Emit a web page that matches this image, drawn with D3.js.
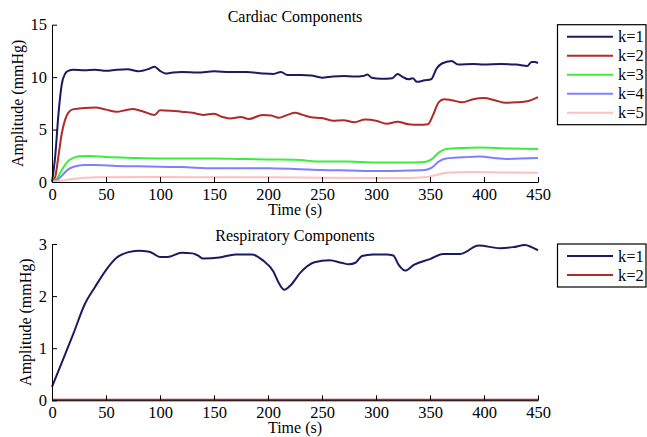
<!DOCTYPE html>
<html>
<head>
<meta charset="utf-8">
<script src="https://cdn.jsdelivr.net/npm/d3@7"></script>
<style>
  html, body { margin: 0; padding: 0; background: #fff; }
  svg { display: block; }
  svg text { font-family: "Liberation Serif", "Times New Roman", "DejaVu Serif", serif; fill: #000; }
</style>
</head>
<body>
<svg id="chart" width="647" height="437"></svg>
<script>
// ---------- DATA ----------
const xTicks = [0, 50, 100, 150, 200, 250, 300, 350, 400, 450];
const cardiacYTicks = [0, 5, 10, 15];
const respYTicks = [0, 1, 2, 3];
const cardiacLabels = ["k=1", "k=2", "k=3", "k=4", "k=5"];
const respLabels = ["k=1", "k=2"];
const cardiacColors = ["#1b1b63", "#b02a2a", "#3ded3d", "#7f7fff", "#ffbfbf"];
const respColors = ["#1b1b63", "#b02a2a"];

// [time (s), amplitude (mmHg)]
const cardiacK1 = [[0,0],[3,2.5],[6,6.5],[9,9.3],[12,10.3],[15,10.6],[20,10.7],[30,10.65],[40,10.7],[50,10.6],[60,10.7],[70,10.75],[80,10.55],[90,10.8],[95,11.0],[100,10.6],[105,10.35],[112,10.45],[120,10.5],[135,10.45],[150,10.55],[165,10.5],[180,10.5],[195,10.35],[205,10.3],[212,10.5],[218,10.2],[230,10.2],[240,10.15],[250,9.95],[260,10.05],[270,10.1],[280,10.05],[288,10.1],[292,10.25],[296,9.95],[305,9.85],[315,9.9],[320,10.3],[325,10.0],[330,9.8],[334,9.9],[338,9.55],[345,9.7],[351,9.8],[356,10.8],[361,11.3],[370,11.55],[376,11.2],[390,11.25],[400,11.2],[415,11.25],[430,11.2],[440,11.05],[444,11.45],[447,11.45],[450,11.35]];
const cardiacK2 = [[0,0],[3,0.5],[6,2.5],[9,4.6],[12,5.9],[15,6.6],[20,6.95],[30,7.05],[40,7.1],[50,6.9],[60,6.7],[68,6.85],[75,6.95],[85,6.7],[95,6.4],[100,6.85],[110,6.8],[120,6.7],[130,6.6],[140,6.4],[150,6.5],[158,6.2],[165,6.05],[175,6.2],[182,6.0],[195,6.4],[203,6.35],[210,6.13],[218,6.4],[225,6.6],[232,6.4],[240,6.17],[250,6.1],[260,5.85],[270,5.9],[280,5.7],[290,5.95],[300,5.85],[310,5.55],[320,5.75],[330,5.5],[340,5.45],[348,5.5],[352,6.2],[358,7.6],[363,7.9],[370,7.8],[380,7.6],[390,7.9],[400,8.0],[410,7.8],[420,7.55],[430,7.6],[440,7.7],[450,8.1]];
const cardiacK3 = [[0,0],[5,0.4],[10,1.3],[15,2.0],[20,2.3],[25,2.45],[35,2.48],[50,2.38],[75,2.3],[100,2.25],[125,2.25],[150,2.25],[175,2.2],[200,2.15],[225,2.12],[250,1.95],[275,1.95],[300,1.85],[325,1.85],[345,1.9],[352,2.2],[358,2.8],[365,3.15],[380,3.25],[395,3.28],[420,3.2],[450,3.15]];
const cardiacK4 = [[0,0],[5,0.2],[10,0.7],[15,1.2],[20,1.45],[30,1.62],[40,1.62],[60,1.53],[80,1.5],[100,1.45],[120,1.42],[150,1.3],[175,1.32],[200,1.3],[225,1.25],[250,1.14],[275,1.1],[300,1.05],[325,1.08],[345,1.15],[352,1.4],[358,1.95],[365,2.25],[380,2.35],[395,2.42],[420,2.2],[450,2.28]];
const cardiacK5 = [[0,0],[10,0.15],[20,0.3],[30,0.4],[40,0.45],[100,0.47],[150,0.46],[200,0.45],[250,0.4],[300,0.38],[330,0.38],[345,0.45],[355,0.65],[365,0.88],[390,0.95],[420,0.9],[450,0.87]];
const respK1 = [[0,0.26],[10,0.77],[20,1.29],[30,1.83],[40,2.18],[50,2.5],[60,2.74],[70,2.84],[80,2.87],[90,2.85],[95,2.8],[100,2.75],[107,2.75],[120,2.83],[130,2.82],[135,2.78],[140,2.72],[155,2.74],[170,2.8],[185,2.8],[195,2.69],[205,2.47],[210,2.25],[215,2.12],[221,2.21],[230,2.45],[243,2.65],[257,2.69],[268,2.64],[275,2.61],[281,2.64],[287,2.77],[297,2.8],[310,2.8],[316,2.78],[321,2.6],[327,2.49],[335,2.6],[350,2.71],[362,2.81],[378,2.81],[395,2.97],[415,2.92],[427,2.94],[438,2.98],[444,2.94],[450,2.88]];
const respK2 = [[0,0.01],[100,0.01],[200,0.01],[300,0.01],[450,0.01]];

const cardiacSeries = [cardiacK1, cardiacK2, cardiacK3, cardiacK4, cardiacK5];
const respSeries = [respK1, respK2];

// ---------- LAYOUT ----------
const svg = d3.select("#chart");
const FONT = 16.5;
const TFONT = 16;
const FAMILY = '"Liberation Serif", "Times New Roman", "DejaVu Serif", serif';
const xLeft = 52, xRight = 538;

function panel(cfg) {
  const x = d3.scaleLinear().domain([0, 450]).range([xLeft, xRight]);
  const y = d3.scaleLinear().domain(cfg.yDomain).range([cfg.yBottom, cfg.yTop]);
  const g = svg.append("g").attr("font-family", FAMILY);

  const line = d3.line().x(d => x(d[0])).y(d => y(d[1])).curve(d3.curveMonotoneX);
  cfg.series.forEach((s, i) => {
    g.append("path").datum(s)
      .attr("fill", "none")
      .attr("stroke", cfg.colors[i])
      .attr("stroke-width", 2)
      .attr("stroke-linejoin", "round")
      .attr("d", line);
  });

  const xa = g.append("g").attr("transform", `translate(0,${cfg.yBottom})`)
    .call(d3.axisBottom(x).tickValues(xTicks).tickFormat(d3.format("d"))
      .tickSizeInner(-5).tickSizeOuter(0).tickPadding(6));
  const ya = g.append("g").attr("transform", `translate(${xLeft},0)`)
    .call(d3.axisLeft(y).tickValues(cfg.yTicks).tickFormat(d3.format("d"))
      .tickSizeInner(-5).tickSizeOuter(0).tickPadding(5));
  [xa, ya].forEach(a => {
    a.attr("font-family", FAMILY).attr("font-size", FONT);
    a.selectAll("path.domain").attr("stroke", "#000").attr("stroke-width", 1);
    a.selectAll(".tick line").attr("stroke", "#000").attr("stroke-width", 1);
    a.selectAll(".tick text").attr("font-size", FONT)
      .attr("font-family", FAMILY).attr("fill", "#000");
  });

  g.append("text").attr("x", (xLeft + xRight) / 2).attr("y", cfg.yTop - 3)
    .attr("text-anchor", "middle").attr("font-size", TFONT).attr("font-family", FAMILY).text(cfg.title);
  g.append("text").attr("x", (xLeft + xRight) / 2).attr("y", cfg.yBottom + 33)
    .attr("text-anchor", "middle").attr("font-size", TFONT).attr("font-family", FAMILY).text("Time (s)");
  g.append("text")
    .attr("transform", `translate(${cfg.yLabelX},${(cfg.yTop + cfg.yBottom) / 2}) rotate(-90)`)
    .attr("text-anchor", "middle").attr("font-size", TFONT).attr("font-family", FAMILY).text("Amplitude (mmHg)");

  const lg = g.append("g");
  const rowH = 19, pad = 12;
  const boxTop = cfg.yTop;
  const boxH = pad * 2 + rowH * (cfg.labels.length - 1);
  lg.append("rect").attr("x", 557.5).attr("y", boxTop).attr("width", 88.5).attr("height", boxH)
    .attr("fill", "#fff").attr("stroke", "#000").attr("stroke-width", 1.2);
  cfg.labels.forEach((lab, i) => {
    const yy = boxTop + pad + i * rowH;
    lg.append("line").attr("x1", 567).attr("x2", 613).attr("y1", yy).attr("y2", yy)
      .attr("stroke", cfg.colors[i]).attr("stroke-width", 2);
    lg.append("text").attr("x", 618).attr("y", yy + 5.5).attr("font-size", FONT)
      .attr("font-family", FAMILY).text(lab);
  });
}

panel({
  title: "Cardiac Components",
  yDomain: [0, 15], yTicks: cardiacYTicks,
  yTop: 24.7, yBottom: 182, yLabelX: 22.5,
  series: cardiacSeries, colors: cardiacColors, labels: cardiacLabels
});
panel({
  title: "Respiratory Components",
  yDomain: [0, 3], yTicks: respYTicks,
  yTop: 244, yBottom: 400.3, yLabelX: 31,
  series: respSeries, colors: respColors, labels: respLabels
});
</script>
</body>
</html>
